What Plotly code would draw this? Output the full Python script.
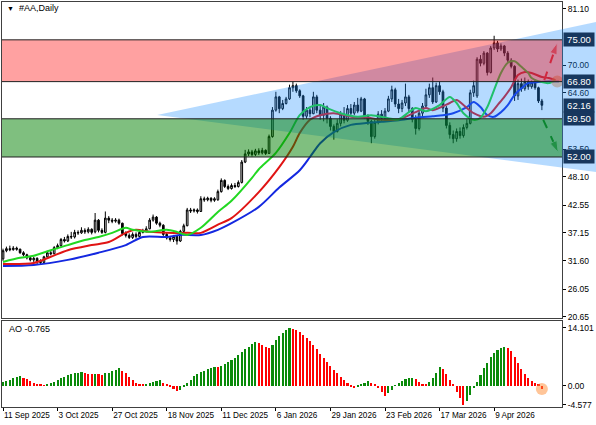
import plotly.graph_objects as go

# daily candles, #AA, from 11 Sep 2025 (index 0) to late Apr 2026
opens = [32.0, 33.6, 34.0, 33.8, 34.1, 33.9, 33.2, 32.8, 32.2, 31.8,
         32.1, 31.5, 31.3, 32.4, 33.2, 33.0, 34.2, 34.6, 35.8, 35.5,
         36.4, 36.3, 37.2, 37.1, 37.6, 37.3, 37.8, 37.3, 39.6, 37.6,
         37.2, 40.0, 39.6, 39.4, 39.6, 39.0, 37.0, 36.6, 36.2, 36.8,
         36.4, 37.2, 37.5, 37.9, 39.6, 40.2, 39.0, 38.6, 36.8, 36.1,
         35.8, 36.4, 35.5, 37.4, 38.5, 41.6, 41.4, 41.6, 41.3, 43.8,
         43.6, 43.9, 43.5, 43.6, 45.2, 47.4, 46.2, 45.8, 46.4, 46.2,
         47.0, 51.0, 52.6, 53.0, 52.5, 53.2, 52.8, 53.3, 52.7, 56.0,
         61.2, 63.8, 61.5, 62.5, 63.4, 65.6, 66.0, 65.0, 64.0, 60.0,
         61.2, 60.5, 63.8, 61.2, 60.2, 61.8, 59.6, 58.0, 57.0, 58.6,
         60.4, 59.2, 61.5, 60.6, 62.2, 61.0, 63.4, 60.0, 59.0, 56.0,
         58.8, 60.4, 59.6, 61.0, 63.4, 65.2, 62.4, 61.5, 62.6, 63.8,
         61.5, 59.4, 57.6, 60.6, 62.0, 64.2, 65.6, 62.8, 66.0, 64.8,
         61.6, 58.2, 56.4, 55.6, 57.0, 56.2, 57.8, 58.6, 64.6, 64.0,
         71.2, 70.4, 72.4, 68.6, 73.4, 74.4, 73.2, 73.8, 72.4, 71.0,
         69.8, 64.0, 66.4, 65.4, 66.8, 65.8, 66.6, 65.6, 63.0]
highs = [34.0, 34.4, 34.6, 34.5, 34.4, 34.0, 33.5, 33.0, 32.5, 32.4,
         32.3, 31.9, 32.6, 33.6, 33.7, 34.5, 35.0, 36.1, 36.3, 36.8,
         37.3, 37.7, 37.6, 38.2, 38.0, 38.2, 38.0, 41.0, 39.8, 38.0,
         41.3, 40.4, 40.0, 40.0, 39.9, 39.1, 37.4, 37.0, 37.2, 37.2,
         37.5, 37.9, 38.4, 40.0, 40.7, 40.4, 39.3, 38.8, 37.2, 36.5,
         36.7, 36.6, 37.7, 38.9, 42.0, 42.0, 41.9, 41.9, 44.3, 44.2,
         44.2, 44.1, 44.1, 45.6, 47.8, 47.6, 46.6, 46.8, 46.9, 47.4,
         51.4, 53.4, 53.5, 53.4, 53.6, 53.7, 53.8, 53.5, 56.4, 61.8,
         64.8, 64.0, 63.2, 63.8, 66.2, 66.8, 66.4, 65.3, 64.2, 61.8,
         61.6, 64.8, 64.2, 62.2, 62.6, 62.1, 60.0, 58.4, 59.4, 61.0,
         61.8, 62.2, 62.4, 62.8, 63.6, 63.8, 63.6, 60.4, 59.3, 59.5,
         61.0, 61.2, 61.6, 64.0, 66.0, 65.6, 63.4, 63.2, 66.4, 64.2,
         61.8, 60.2, 61.2, 62.6, 65.4, 66.4, 67.6, 66.6, 66.8, 65.2,
         62.0, 58.8, 57.2, 57.6, 57.8, 58.4, 59.4, 65.2, 67.0, 71.6,
         72.0, 72.8, 72.6, 73.8, 75.8, 74.8, 74.3, 74.0, 72.8, 71.4,
         70.0, 67.2, 67.4, 67.6, 67.2, 67.0, 67.2, 65.8, 63.4]
lows = [31.6, 33.3, 33.5, 33.6, 33.6, 33.0, 32.5, 31.9, 31.5, 31.4,
        31.0, 30.8, 31.1, 32.2, 32.7, 32.9, 33.9, 34.4, 35.2, 35.3,
        35.9, 36.0, 36.7, 36.9, 36.9, 37.0, 36.8, 37.0, 37.2, 36.9,
        37.0, 39.0, 39.0, 39.1, 38.7, 36.6, 36.2, 35.9, 35.9, 36.0,
        36.2, 37.0, 37.2, 37.8, 39.3, 38.7, 38.2, 36.5, 35.8, 35.4,
        35.3, 34.8, 35.3, 37.2, 38.4, 41.0, 41.1, 40.9, 41.2, 43.2,
        43.3, 43.1, 43.2, 43.4, 45.0, 45.9, 45.5, 45.6, 45.9, 46.0,
        46.8, 50.8, 52.2, 52.1, 52.2, 52.4, 52.5, 52.4, 52.6, 55.8,
        60.9, 60.6, 61.2, 62.3, 63.2, 64.8, 64.6, 63.6, 59.3, 59.5,
        59.8, 60.4, 60.6, 59.3, 59.0, 58.6, 57.2, 55.4, 56.8, 58.0,
        58.6, 58.9, 60.2, 60.2, 60.6, 60.8, 59.6, 58.3, 54.7, 55.6,
        58.4, 59.0, 59.2, 60.8, 62.8, 61.8, 60.6, 60.8, 62.0, 60.8,
        58.8, 56.4, 57.2, 59.8, 61.6, 63.6, 62.4, 62.6, 64.2, 60.8,
        57.6, 55.6, 54.7, 55.0, 55.6, 55.8, 57.4, 58.4, 63.8, 63.6,
        69.8, 70.0, 68.0, 68.4, 73.0, 72.6, 72.8, 71.8, 70.6, 69.4,
        63.0, 63.2, 64.8, 65.0, 65.2, 65.4, 65.2, 62.6, 61.2]
closes = [33.6, 34.0, 33.8, 34.1, 33.9, 33.2, 32.8, 32.2, 31.8, 32.1,
          31.5, 31.3, 32.4, 33.2, 33.0, 34.2, 34.6, 35.8, 35.5, 36.4,
          36.3, 37.2, 37.1, 37.6, 37.3, 37.8, 37.2, 39.6, 37.6, 37.2,
          40.0, 39.6, 39.4, 39.6, 39.0, 37.0, 36.6, 36.2, 36.8, 36.4,
          37.2, 37.5, 37.9, 39.6, 40.2, 39.0, 38.6, 36.8, 36.1, 35.8,
          36.4, 35.5, 37.4, 38.5, 41.6, 41.4, 41.6, 41.3, 43.8, 43.6,
          43.9, 43.5, 43.8, 45.2, 47.4, 46.2, 45.8, 46.4, 46.2, 47.0,
          51.0, 52.6, 53.0, 52.5, 53.2, 52.8, 53.3, 52.7, 56.0, 61.2,
          63.8, 61.5, 62.5, 63.4, 65.6, 66.0, 65.0, 64.0, 60.0, 61.2,
          60.5, 63.8, 61.2, 60.2, 61.8, 59.6, 58.0, 57.0, 58.6, 60.4,
          59.2, 61.5, 60.6, 62.2, 61.0, 63.4, 60.0, 59.0, 56.0, 58.8,
          60.4, 59.6, 61.0, 63.4, 65.2, 62.4, 61.5, 62.6, 63.8, 61.5,
          59.4, 57.6, 60.6, 62.0, 64.2, 65.6, 62.8, 66.0, 64.8, 61.6,
          58.2, 56.4, 55.6, 57.0, 56.2, 57.8, 58.6, 64.6, 66.0, 71.2,
          70.4, 72.4, 68.6, 73.4, 74.4, 73.2, 73.8, 72.4, 71.0, 69.8,
          64.0, 66.4, 65.4, 66.8, 65.8, 66.6, 65.6, 63.0, 62.16]

# Awesome Oscillator, one value per bar
ao = [0.9, 1.2, 1.5, 1.8, 2.1, 2.3, 2.0, 1.6, 1.2, 0.8,
      0.4, 0.2, 0.1, 0.3, 0.6, 1.0, 1.4, 1.8, 2.2, 2.6,
      2.8, 3.0, 3.2, 3.3, 3.1, 2.9, 2.8, 2.9, 2.8, 2.7,
      3.0, 3.2, 3.5, 3.9, 4.3, 3.7, 3.0, 2.2, 1.4, 0.8,
      0.4, 0.2, 0.3, 0.6, 0.9, 1.1, 1.3, 0.8, 0.3, -0.3,
      -0.8, -1.3, -0.9, -0.3, 0.6, 1.5, 2.4, 2.9, 3.3, 3.7,
      4.0, 4.3, 4.6, 4.5, 4.9, 5.3, 5.7, 6.2, 6.8, 7.4,
      8.1, 8.8, 9.5, 10.1, 10.6, 10.3, 9.9, 9.5, 9.2, 10.0,
      11.0, 12.0, 12.8, 13.6, 14.101, 13.8, 13.5, 13.0, 12.3, 11.6,
      10.9, 9.9, 8.8, 7.6, 6.7, 5.7, 4.8, 3.9, 3.0, 2.2,
      1.3, 0.6, -0.2, -0.5, -0.3, 0.2, 0.6, 1.2, 0.8, 0.2,
      -0.6, -1.5, -2.4, -1.8, -0.9, 0.1, 0.7, 1.2, 1.6, 1.9,
      2.0, 1.6, 0.9, 0.4, 0.2, 0.9, 1.8, 3.2, 4.6, 4.0,
      2.8, 1.5, 0.2, -1.5, -3.0, -4.577, -3.6, -2.2, -0.6, 1.0,
      2.6, 4.2, 5.6, 6.9, 7.9, 8.6, 9.1, 9.3, 9.2, 8.4,
      7.0, 5.5, 4.0, 2.8, 1.8, 1.2, 0.8, 0.4, -0.765]

# Alligator lines (read at bar positions, already shifted forward)
lips_idx = [0, 5, 9, 14, 19, 24, 28, 32, 36, 38, 43, 48, 51, 54, 58, 63, 67, 73, 75, 80,
            84, 87, 90, 93, 95, 99, 104, 108, 113, 116, 119, 121, 124, 128, 131, 133, 135,
            138, 140, 142, 144, 146, 148, 150, 152, 154, 155, 158, 160, 162]
lips = [31.4, 32.2, 32.6, 33.7, 34.7, 35.7, 36.3, 37.1, 38.1, 37.7, 37.3, 37.7, 37.3, 36.7,
        38.1, 41.2, 43.4, 47.9, 49.6, 52.8, 56.7, 60.2, 61.8, 62.2, 61.6, 60.6, 59.9, 60.2,
        59.6, 59.4, 60.8, 61.6, 61.0, 62.2, 63.8, 62.6, 60.6, 59.3, 59.7, 61.8, 65.2, 68.5,
        70.5, 70.8, 69.7, 68.5, 67.5, 66.7, 66.5, 67.0]
teeth_idx = [0, 9, 14, 19, 26, 31, 36, 39, 43, 48, 54, 58, 63, 67, 75, 81, 85, 87, 90, 93,
             97, 102, 107, 111, 116, 121, 124, 126, 131, 133, 135, 138, 141, 143, 145, 147,
             149, 151, 153, 155, 158, 160, 162]
teeth = [31.0, 31.2, 32.4, 33.7, 34.7, 35.3, 37.1, 37.7, 37.3, 37.1, 37.1, 37.1, 38.7, 40.0,
         45.1, 50.0, 54.0, 56.7, 59.3, 60.2, 60.6, 59.9, 59.7, 59.3, 59.4, 60.8, 61.6, 61.2,
         62.6, 63.2, 62.2, 60.6, 59.9, 60.6, 62.2, 63.8, 65.7, 68.1, 68.7, 68.5, 67.7, 67.5,
         67.1]
jaw_idx = [0, 9, 19, 28, 36, 41, 48, 52, 58, 63, 67, 75, 81, 87, 90, 93, 97, 102, 107, 111,
           116, 121, 126, 129, 132, 136, 138, 140, 142, 144, 146, 148, 150, 152, 154, 157,
           160, 163]
jaw = [30.6, 30.8, 31.8, 33.2, 34.7, 36.3, 36.3, 36.7, 36.7, 37.7, 39.0, 42.2, 46.0, 49.4,
       52.0, 54.7, 56.9, 58.3, 58.7, 58.9, 59.2, 59.7, 60.0, 60.2, 60.6, 61.8, 62.8, 61.8,
       60.2, 59.9, 60.8, 62.2, 64.2, 65.5, 66.5, 66.7, 66.8, 66.8]

date_idx = [0, 16, 32, 48, 64, 80, 96, 112, 128, 144]
date_text = ["11 Sep 2025", "3 Oct 2025", "27 Oct 2025", "18 Nov 2025", "11 Dec 2025",
             "6 Jan 2026", "29 Jan 2026", "23 Feb 2026", "17 Mar 2026", "9 Apr 2026"]
price_ticks = [81.10, 70.00, 64.60, 53.50, 48.10, 42.55, 37.15, 31.60, 26.05, 20.65]
level_labels = [75.00, 66.80, 62.16, 59.50, 52.00]
resistance = (66.80, 75.00)
support = (52.00, 59.50)

FONT = "Liberation Sans"
xr = [-0.3, 163.9]
yr = [20.39, 82.43]
main_dom = [0.2198, 1.0]
ao_dom = [0.0, 0.212]

x = list(range(len(closes)))
ao_colors = ["#0a8a0a"] + ["#0a8a0a" if ao[i] > ao[i - 1] else "#ff0000" for i in range(1, len(ao))]


def px(idx):
    return (idx - xr[0]) / (xr[1] - xr[0])


def py(price):
    return main_dom[0] + (price - yr[0]) / (yr[1] - yr[0]) * (main_dom[1] - main_dom[0])


fig = go.Figure()

fig.add_trace(go.Candlestick(
    x=x, open=opens, high=highs, low=lows, close=closes,
    increasing=dict(fillcolor="#c8c8c8", line=dict(color="#000000", width=1)),
    decreasing=dict(fillcolor="#000000", line=dict(color="#000000", width=1)),
    whiskerwidth=0, hoverinfo="skip", showlegend=False,
    xaxis="x", yaxis="y",
))

for idx, vals, col in [(jaw_idx, jaw, "#1428e0"), (teeth_idx, teeth, "#e01414"),
                       (lips_idx, lips, "#22d822")]:
    fig.add_trace(go.Scatter(
        x=idx, y=vals, mode="lines",
        line=dict(color=col, width=2, shape="spline", smoothing=0.8),
        hoverinfo="skip", showlegend=False, xaxis="x", yaxis="y",
    ))

fig.add_trace(go.Bar(
    x=x, y=ao, marker=dict(color=ao_colors, line=dict(width=0)), width=0.62,
    hoverinfo="skip", showlegend=False, xaxis="x2", yaxis="y2",
))

# forecast arrows
for xs, ys, col in [([158.7, 162.5], [67.1, 74.4], "#ff1a1a"),
                    ([158.4, 162.8], [59.3, 52.9], "#128a12")]:
    fig.add_trace(go.Scatter(
        x=xs, y=ys, mode="lines+markers",
        line=dict(color=col, width=2, dash="dash"),
        marker=dict(symbol="arrow", size=[0, 12], color=col, angleref="previous"),
        cliponaxis=False, hoverinfo="skip", showlegend=False, xaxis="x", yaxis="y",
    ))

fig.add_trace(go.Scatter(
    x=[162.5], y=[66.8], mode="markers",
    marker=dict(size=12, color="rgba(255,140,50,0.55)"),
    hoverinfo="skip", showlegend=False, xaxis="x", yaxis="y",
))
fig.add_trace(go.Scatter(
    x=[158], y=[-0.765], mode="markers",
    marker=dict(size=12, color="rgba(255,140,50,0.5)"),
    hoverinfo="skip", showlegend=False, xaxis="x2", yaxis="y2",
))

# triangle drawn across the whole width, axis area included
tri = [(45.2, 60.25), (173.9, 78.5), (173.9, 49.05)]
path = "M {:.4f},{:.4f} L {:.4f},{:.4f} L {:.4f},{:.4f} Z".format(
    px(tri[0][0]), py(tri[0][1]), px(tri[1][0]), py(tri[1][1]), px(tri[2][0]), py(tri[2][1]))
shapes = [dict(type="path", path=path, xref="paper", yref="paper",
               fillcolor="rgba(30,144,255,0.33)", line=dict(width=0), layer="above")]
shapes.append(dict(type="rect", xref="paper", yref="y", x0=0, x1=1,
                   y0=resistance[0], y1=resistance[1],
                   fillcolor="rgba(255,0,0,0.37)", line=dict(width=0), layer="above"))
shapes.append(dict(type="rect", xref="paper", yref="y", x0=0, x1=1,
                   y0=support[0], y1=support[1],
                   fillcolor="rgba(0,128,0,0.5)", line=dict(width=0), layer="above"))
for lvl in list(resistance) + list(support):
    shapes.append(dict(type="line", xref="paper", yref="y", x0=0, x1=1, y0=lvl, y1=lvl,
                       line=dict(color="#202020", width=1), layer="above"))

annotations = [
    dict(text="<span style='font-size:7px'>▼</span>  #AA,Daily", xref="paper", yref="paper",
         x=0.006, y=0.985, xanchor="left", yanchor="middle", showarrow=False,
         font=dict(family=FONT, size=9, color="#000000")),
    dict(text="AO -0.765", xref="paper", yref="paper", x=0.009, y=0.193,
         xanchor="left", yanchor="middle", showarrow=False,
         font=dict(family=FONT, size=9, color="#000000")),
]
for lv in level_labels:
    annotations.append(dict(
        text=f"{lv:.2f}", xref="paper", yref="y", x=1.002, y=lv,
        xanchor="left", yanchor="middle", showarrow=False, width=28, height=11,
        bgcolor="#17375e", borderpad=1,
        font=dict(family=FONT, size=9.5, color="#ffffff"),
    ))

axis_common = dict(showline=True, mirror=True, linecolor="#404040", linewidth=1,
                   showgrid=False, zeroline=False)

fig.update_layout(
    width=596, height=425,
    margin=dict(l=2, r=34, t=2, b=18, autoexpand=False),
    paper_bgcolor="#ffffff", plot_bgcolor="#ffffff",
    showlegend=False, bargap=0,
    font=dict(family=FONT, size=9, color="#000000"),
    xaxis=dict(domain=[0, 1], range=xr, anchor="y", showticklabels=False, ticks="",
               rangeslider=dict(visible=False), **axis_common),
    yaxis=dict(domain=main_dom, range=yr, anchor="x", side="right",
               tickvals=price_ticks, ticktext=[f"{v:.2f}" for v in price_ticks],
               ticks="outside", ticklen=3, tickcolor="#000000",
               tickfont=dict(family=FONT, size=8.5, color="#000000"), **axis_common),
    xaxis2=dict(domain=[0, 1], range=xr, anchor="y2", matches="x",
                tickvals=date_idx, ticktext=date_text, ticks="outside", ticklen=3,
                tickangle=0, tickcolor="#000000", ticklabelposition="outside right",
                tickfont=dict(family=FONT, size=8.2, color="#000000"), **axis_common),
    yaxis2=dict(domain=ao_dom, range=[-5.1, 15.7], anchor="x2", side="right",
                tickvals=[14.101, 0, -4.577], ticktext=["14.101", "0.00", "-4.577"],
                ticks="outside", ticklen=3, tickcolor="#000000",
                tickfont=dict(family=FONT, size=8.5, color="#000000"), **axis_common),
    shapes=shapes,
    annotations=annotations,
)

fig.write_html("out.html", config={"displayModeBar": False},
               post_script="document.body.style.margin='0';")
